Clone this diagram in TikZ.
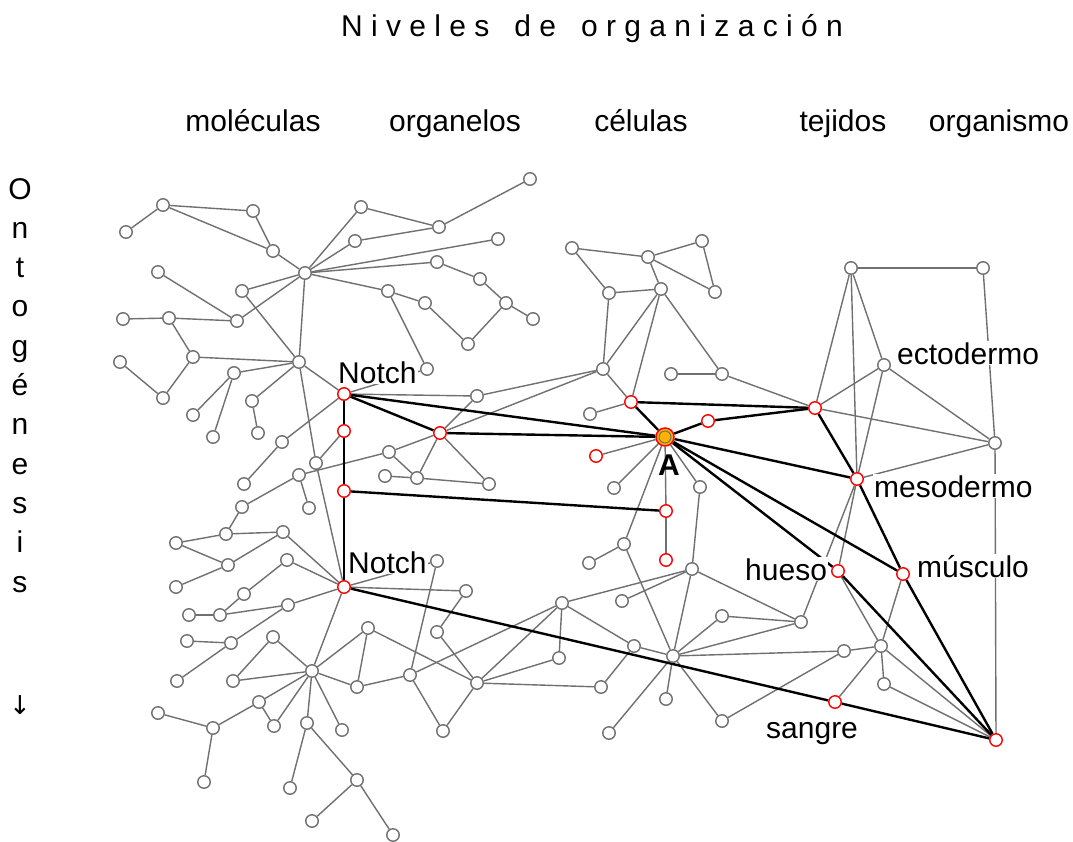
\documentclass[tikz,border=0pt]{standalone}
\usepackage{fontspec}
\setmainfont{Liberation Sans}
\newfontfamily\djv{DejaVu Sans}
\definecolor{nodegray}{HTML}{707070}
\definecolor{edgegray}{HTML}{707070}
\definecolor{aorange}{HTML}{FFB300}
\pgfdeclarelayer{bglayer}
\pgfdeclarelayer{edgelayer}
\pgfsetlayers{bglayer,edgelayer,main}
\begin{document}
\begin{tikzpicture}[x=1pt,y=-1pt,
  gn/.style={circle,draw=nodegray,fill=white,line width=1.4pt,minimum size=12.5pt,inner sep=0pt},
  rn/.style={gn,draw=red},
  ge/.style={draw=edgegray,line width=1.4pt},
  be/.style={draw=black,line width=2.4pt},
  lab/.style={font=\fontsize{30}{32}\selectfont,inner sep=0pt},
  wlab/.style={lab,fill=white,inner sep=1pt}]
\begin{pgfonlayer}{bglayer}
\fill[white] (0,0) rectangle (1073,841);
\end{pgfonlayer}
\useasboundingbox (0,0) rectangle (1073,841);
% gray nodes
\foreach \n/\x/\y in {g1/126/232, g2/163/205, g3/253/211, g4/273/251, H1/305/273, g5/361/207, g6/355/241, g7/158/272, g8/242/291, g9/123/319, g10/169/318, g11/237/321, g12/193/357, g13/120/362, H2/299/362, g14/234/373, g15/163/398, g16/193/415, g17/213/437, g18/252/401, g19/258/433, g20/282/442, g21/244/484, g22/316/463, g23/299/475, g24/309/508, g25/242/507, g26/226/534, g27/283/532, g28/176/543, g29/228/565, g30/287/560, g31/176/587, g32/244/594, g33/189/615, g34/220/615, g35/288/605, g36/187/641, g37/231/643, g38/177/681, g39/273/637, g40/233/681, H3/312/671, g41/158/713, g42/213/728, g43/259/702, g44/274/726, g45/307/723, g46/342/730, g47/204/782, g48/290/788, g49/357/780, g50/312/821, g51/393/835, g52/368/628, g53/357/687, g54/410/675, g55/437/632, g56/477/683, g57/443/731, g58/559/658, g59/562/603, g60/601/687, g61/437/561, g62/466/591, g63/439/227, g64/530/179, g65/498/239, g66/437/262, g67/480/279, g68/506/303, g69/533/319, g70/468/344, g71/388/291, g72/425/303, g73/427/369, g74/477/396, g75/389/452, g76/385/476, g77/417/478, g78/489/484, g79/572/248, g80/648/257, g81/702/241, g82/715/292, g83/609/293, g84/661/289, g85/603/369, g86/671/374, g87/722/374, g88/590/414, g89/614/488, g90/700/487, g91/624/544, g92/589/563, g93/692/569, g94/622/601, g95/634/646, H4/673/656, g96/722/616, g97/801/622, g99/666/699, g100/609/733, g101/722/721, g102/851/268, g103/983/268, E/884/365, g104/995/443, g105/844/651, g106/881/646, g107/884/684}
  \node[gn] (\n) at (\x,\y) {};
% red nodes
\foreach \n/\x/\y in {N1/344/394, r1/344/431, r2/344/491, N2/344/587, r3/440/433, r4/631/402, r5/708/421, T/815/408, r6/596/456, r7/666/511, r8/666/560, M/857/479, Hu/838/571, Mu/903/574, S/835/702, O/996/740}
  \node[rn] (\n) at (\x,\y) {};
% node A
\node[circle,draw=red,fill=aorange,line width=1.5pt,minimum size=18pt,inner sep=0pt] (A) at (665,437) {};
\node[circle,draw=nodegray,line width=1pt,minimum size=12pt,inner sep=0pt] (Ain) at (665,437) {};
\begin{pgfonlayer}{edgelayer}
\foreach \a/\b in {g1/g2, g2/g3, g2/g4, g3/g4, g4/H1, H1/g5, H1/g6, H1/g65, H1/g66, H1/g71, H1/g8, H1/g11, g7/g11, g9/g10, g10/g11, g10/g12, g12/H2, g13/g15, g15/g12, g8/H2, H1/H2, H2/g14, H2/N1, H2/g18, H2/g22, g22/N2, g14/g16, g14/g17, g18/g19, g20/N1, g20/g21, g22/r1, g23/g75, g23/g24, g25/g23, g25/g26, g26/g28, g26/g27, g28/g29, g29/g27, g27/N2, g30/N2, g30/g32, g32/g34, g33/g34, g34/g35, g35/N2, g31/g29, g36/g37, g37/g35, g37/g38, g39/g40, g39/H3, g40/H3, H3/N2, H3/g53, H3/g52, H3/g43, H3/g44, H3/g45, H3/g46, g43/g44, g43/g42, g42/g41, g42/g47, g45/g48, g45/g49, g49/g50, g49/g51, g52/g53, g52/g56, g53/g54, g61/g54, g54/g59, g54/g57, g57/g56, g62/g55, g55/g56, g56/g59, g56/g58, g58/g59, g56/g60, N2/g61, N2/g62, g59/g95, g59/g93, g60/g95, g5/g63, g63/g64, g6/g63, g66/g67, g67/g68, g68/g69, g68/g70, g70/g72, g72/g71, g71/g73, N1/g73, N1/g74, g74/g85, r3/g74, r3/g85, r3/g75, g75/g77, g76/g77, g77/r3, g77/g78, r3/g78, g79/g80, g80/g81, g81/g82, g80/g82, g80/g84, g79/g83, g83/g84, g83/g85, g84/g85, g84/r4, g84/g87, g86/g87, g87/T, g85/r4, g88/r4, A/r6, A/g89, A/g90, A/r7, r7/r8, A/g91, g91/g92, g91/H4, g90/g93, g93/g97, g93/H4, g94/g93, g95/H4, H4/g96, g96/g97, H4/g97, H4/g105, H4/g99, H4/g100, H4/g101, g101/g105, g102/g103, g103/g104, g102/T, g102/M, g102/E, E/T, E/M, E/g104, T/g104, M/g104, g104/O, M/Hu, M/g97, Hu/g106, Mu/g106, g105/g106, g106/S, g106/g107, g106/O, g107/O}
  \draw[ge] (\a) -- (\b);
\foreach \a/\b in {N1/r1, r1/r2, r2/N2, N1/r3, N1/A, r3/A, r2/r7, r4/A, r4/T, A/r5, r5/T, A/M, A/Hu, A/Mu, T/M, M/Mu, Mu/O, Hu/O, N2/S, S/O}
  \draw[be] (\a) -- (\b);
\end{pgfonlayer}
% labels
\node[lab,anchor=base] (title) at (592,36) {N\ i\ v\ e\ l\ e\ s\ \ \ d\ e\ \ \ o\ r\ g\ a\ n\ i\ z\ a\ c\ i\ ó\ n};
\node[lab,anchor=base] (h1) at (253,131) {moléculas};
\node[lab,anchor=base] (h2) at (455,131) {organelos};
\node[lab,anchor=base] (h3) at (641,131) {células};
\node[lab,anchor=base] (h4) at (843,131) {tejidos};
\node[lab,anchor=base] (h5) at (999,131) {organismo};
\foreach \ch [count=\k from 0] in {O,n,t,o,g,é,n,e,s,i,s}
  \node[lab,anchor=base] (v\k) at (20,{199+39.3*\k}) {\ch};
\node[lab] (varrow) at (20,705) {\djv\fontsize{26}{28}\selectfont ↓};
\node[wlab,anchor=base west] (lN1) at (337,383) {Notch};
\node[wlab,anchor=base west] (lN2) at (347,573) {Notch};
\node[lab,anchor=base] (lA) at (669,475) {\bfseries A};
\node[wlab,anchor=base west] (lE) at (896,364) {ectodermo};
\node[wlab,anchor=base west] (lM) at (873,497) {mesodermo};
\node[wlab,anchor=base west] (lHu) at (744,580) {hueso};
\node[wlab,anchor=base west] (lMu) at (916,577) {músculo};
\node[wlab,anchor=base west] (lS) at (765,738) {sangre};
\end{tikzpicture}
\end{document}
